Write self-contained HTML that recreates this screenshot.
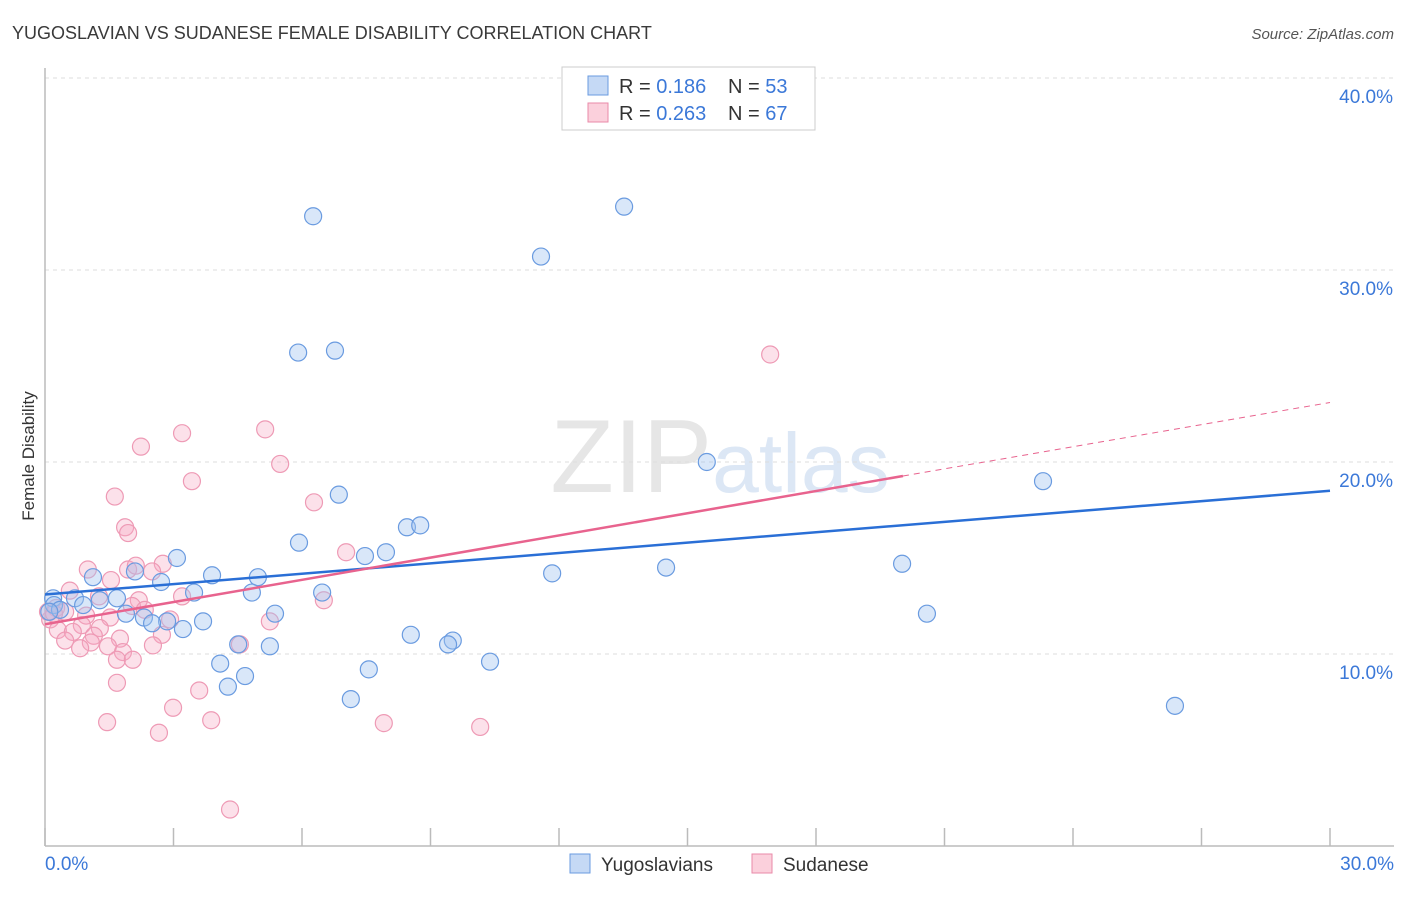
<!DOCTYPE html>
<html><head><meta charset="utf-8"><style>
body{margin:0;background:#fff;font-family:"Liberation Sans",sans-serif;}
svg text{font-family:"Liberation Sans",sans-serif;}
</style></head><body>
<svg id="chart" width="1406" height="892" viewBox="0 0 1406 892" xmlns="http://www.w3.org/2000/svg">
<text x="12" y="39" font-size="18" fill="#3a3a3a">YUGOSLAVIAN VS SUDANESE FEMALE DISABILITY CORRELATION CHART</text>
<text x="1394" y="39" font-size="15" fill="#555" text-anchor="end" font-style="italic">Source: ZipAtlas.com</text>
<text x="720" y="492" font-size="104" fill="#e6e6e6" text-anchor="middle" font-family="Liberation Serif">ZIP<tspan fill="#dce7f5" font-family="Liberation Sans" font-size="84">atlas</tspan></text>
<g id="grid"></g>
<line x1="45" y1="68" x2="45" y2="846" stroke="#bbb" stroke-width="1.5"/>
<line x1="45" y1="846" x2="1394" y2="846" stroke="#bbb" stroke-width="1.5"/>
<g id="xticks"></g>
<text transform="translate(34,456) rotate(-90)" font-size="17" fill="#333" text-anchor="middle">Female Disability</text>
<text x="45" y="870" font-size="19" fill="#3b78d8">0.0%</text>
<text x="1394" y="870" font-size="19" fill="#3b78d8" text-anchor="end">30.0%</text>
<g id="pts"></g>
<g id="trends"></g>
<g>
<rect x="562" y="67" width="253" height="63" fill="#fff" stroke="#ccc"/>
<rect x="588" y="76" width="20" height="19" fill="#c5d9f5" stroke="#6a9be0"/>
<rect x="588" y="103" width="20" height="19" fill="#fbd0dc" stroke="#e98aa8"/>
<text x="619" y="93" font-size="20" fill="#333">R = <tspan fill="#3b78d8">0.186</tspan><tspan x="728">N = </tspan><tspan fill="#3b78d8">53</tspan></text>
<text x="619" y="120" font-size="20" fill="#333">R = <tspan fill="#3b78d8">0.263</tspan><tspan x="728">N = </tspan><tspan fill="#3b78d8">67</tspan></text>
</g>
<g>
<rect x="570" y="854" width="20" height="19" fill="#c5d9f5" stroke="#6a9be0"/>
<text x="601" y="871" font-size="19" fill="#333">Yugoslavians</text>
<rect x="752" y="854" width="20" height="19" fill="#fbd0dc" stroke="#e98aa8"/>
<text x="783" y="871" font-size="19" fill="#333">Sudanese</text>
</g>
</svg>
<script>
const yTicks=[10,20,30,40];
const yTickLabels=["10.0%","20.0%","30.0%","40.0%"];
const blueX=[6.26,13.52,11.58,5.91,6.77,15.45,23.30,6.86,8.45,8.76,5.93,7.47,7.96,3.08,11.84,14.50,20.01,1.12,2.10,2.71,3.90,4.97,3.48,4.83,6.47,0.19,0.70,1.28,1.68,0.89,1.89,2.31,2.85,5.37,3.69,2.50,3.22,20.59,0.21,0.35,4.51,5.25,8.54,9.52,9.41,10.39,4.09,7.56,4.67,4.27,7.14,26.38,0.10];
const blueY=[32.8,33.3,30.7,25.7,25.8,20.0,19.0,18.3,16.6,16.7,15.8,15.1,15.3,15.0,14.2,14.5,14.7,14.0,14.3,13.75,14.1,14.0,13.2,13.2,13.2,12.9,12.9,12.8,12.9,12.55,12.1,11.9,11.7,12.1,11.7,11.6,11.3,12.1,12.55,12.3,10.5,10.4,11.0,10.7,10.5,9.6,9.5,9.2,8.85,8.3,7.65,7.3,12.2];
const pinkX=[16.93,3.20,5.14,2.24,5.49,3.43,1.63,6.28,1.87,1.94,7.03,1.00,1.94,2.12,2.75,2.50,1.54,0.58,1.26,3.20,2.19,6.51,2.03,2.33,0.26,0.47,0.96,1.52,2.92,5.25,0.12,0.86,1.28,0.30,0.65,1.14,1.75,2.73,0.47,1.07,1.47,0.82,2.52,4.55,1.82,1.68,2.05,1.68,3.60,1.45,2.99,3.88,2.66,7.91,10.16,4.32,0.07,0.21];
const pinkY=[25.6,21.5,21.7,20.8,19.9,19.0,18.2,17.9,16.6,16.3,15.3,14.4,14.4,14.6,14.7,14.3,13.85,13.3,13.0,13.0,12.8,12.8,12.5,12.3,12.4,12.2,12.0,11.9,11.8,11.7,11.8,11.5,11.35,11.25,11.15,10.95,10.8,11.0,10.7,10.6,10.4,10.3,10.45,10.5,10.1,9.7,9.7,8.5,8.1,6.45,7.2,6.55,5.9,6.4,6.2,1.9,12.2,12.1];
const blueTrend=[13.1,18.5];
const pinkTrend=[11.55,19.27,23.1];
const pinkSolidEnd=20.03;
const X=v=>45+v/30*1285, Y=v=>846-v*19.2;
const NS="http://www.w3.org/2000/svg";
function mk(tag,attrs,parent){const e=document.createElementNS(NS,tag);for(const k in attrs)e.setAttribute(k,attrs[k]);parent.appendChild(e);return e;}
const grid=document.getElementById('grid');
yTicks.forEach((t,i)=>{
 const l=mk('line',{x1:45,x2:1394,y1:Y(t),y2:Y(t),stroke:'#ddd','stroke-dasharray':'4,4'},grid);
 
 
 const tx=mk('text',{x:1393,y:Y(t)+25,'font-size':19,fill:'#3b78d8','text-anchor':'end'},grid);
 tx.textContent=yTickLabels[i];
 
 
});
const xt=document.getElementById('xticks');
for(let i=0;i<=10;i++){const v=i*3;const l=mk('line',{x1:X(v),x2:X(v),y1:828,y2:846,stroke:'#bbb','stroke-width':1.5},xt);
 
 }
const pts=document.getElementById('pts');
pinkX.forEach((v,i)=>{const c=mk('circle',{cx:X(v),cy:Y(pinkY[i]),r:8.5,fill:'rgba(246,170,195,0.35)',stroke:'#ee9ab5','stroke-width':1.2},pts);
 
 });
blueX.forEach((v,i)=>{const c=mk('circle',{cx:X(v),cy:Y(blueY[i]),r:8.5,fill:'rgba(160,195,240,0.4)',stroke:'#6a9be0','stroke-width':1.2},pts);
 
 });
const tr=document.getElementById('trends');
const bl=mk('line',{x1:X(0),y1:Y(blueTrend[0]),x2:X(30),y2:Y(blueTrend[1]),stroke:'#2a6fd6','stroke-width':2.5},tr);


const pl=mk('line',{x1:X(0),y1:Y(pinkTrend[0]),x2:X(pinkSolidEnd),y2:Y(pinkTrend[1]),stroke:'#e8638e','stroke-width':2.5},tr);


const pd=mk('line',{x1:X(pinkSolidEnd),y1:Y(pinkTrend[1]),x2:X(30),y2:Y(pinkTrend[2]),stroke:'#e8638e','stroke-width':1,'stroke-dasharray':'6,5'},tr);


</script>
</body></html>
